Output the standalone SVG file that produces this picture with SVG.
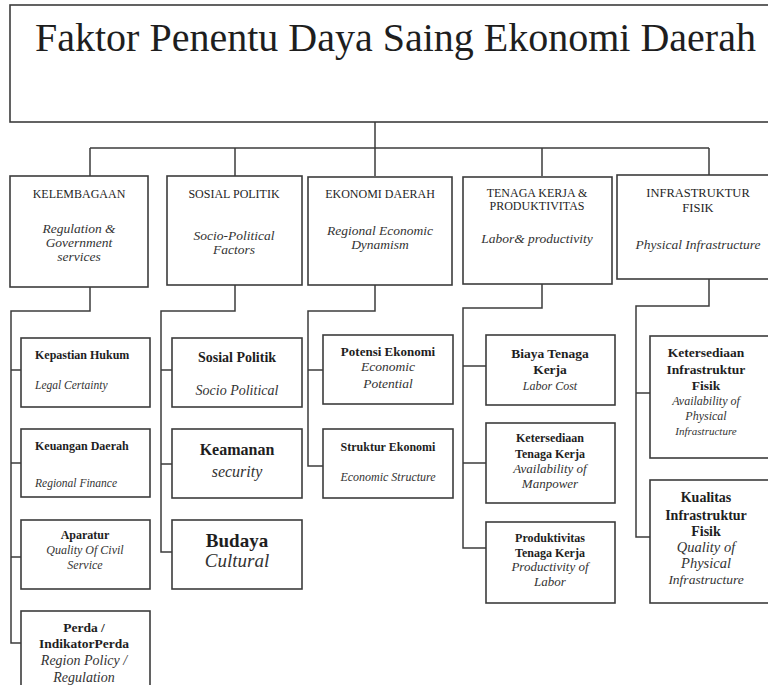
<svg xmlns="http://www.w3.org/2000/svg" width="768" height="685" viewBox="0 0 768 685" font-family="'Liberation Serif', serif">
<style>
.box{fill:#fff;stroke:#3c3c3c;stroke-width:1.6}
.ln{fill:none;stroke:#3c3c3c;stroke-width:1.5}
text{font-family:'Liberation Serif',serif;fill:#1e1e1e;text-anchor:middle}
.h{font-size:12px}
.hi{font-size:13.5px;font-style:italic;fill:#333}
.b{font-weight:bold;font-size:12px}
.i{font-style:italic;font-size:12px;fill:#333}
.l{text-anchor:start}
</style>
<rect width="768" height="685" fill="#fff"/>
<g id="connectors">
<path class="ln" d="M375 122V148M90 148H709M90 148V176M235 148V176M375 148V176M542 148V176M709 148V175"/>
<path class="ln" d="M90 287V311H11V643H21M11 370H21M11 463H21M11 557H21"/>
<path class="ln" d="M235 285V311H161V552H172M161 370H172M161 464H172"/>
<path class="ln" d="M375 285V311H308V466H323M308 370H323"/>
<path class="ln" d="M542 284V308H463V548H486M463 366H486M463 463H486"/>
<path class="ln" d="M709 279V306H636V537H650M636 393H650"/>
</g>
<g id="title">
<rect class="box" x="10" y="5" width="780" height="117"/>
<text class="l" x="35" y="51" style="font-size:40px">Faktor Penentu Daya Saing Ekonomi Daerah</text>
</g>
<g id="kelembagaan">
<rect class="box" x="10" y="176" width="138" height="111"/>
<text class="h" x="79" y="198">KELEMBAGAAN</text>
<text class="hi" x="79" y="233">Regulation &amp;</text>
<text class="hi" x="79" y="247">Government</text>
<text class="hi" x="79" y="261">services</text>
</g>
<g id="sosial-politik">
<rect class="box" x="167" y="176" width="135" height="109"/>
<text class="h" x="234" y="198">SOSIAL POLITIK</text>
<text class="hi" x="234" y="240">Socio-Political</text>
<text class="hi" x="234" y="254">Factors</text>
</g>
<g id="ekonomi-daerah">
<rect class="box" x="308" y="177" width="144" height="108"/>
<text class="h" x="380" y="198">EKONOMI DAERAH</text>
<text class="hi" x="380" y="235">Regional Economic</text>
<text class="hi" x="380" y="249">Dynamism</text>
</g>
<g id="tenaga-kerja">
<rect class="box" x="463" y="177" width="149" height="107"/>
<text class="h" x="537" y="197">TENAGA KERJA &amp;</text>
<text class="h" x="537" y="210">PRODUKTIVITAS</text>
<text class="hi" x="537" y="243">Labor&amp; productivity</text>
</g>
<g id="infrastruktur">
<rect class="box" x="617" y="175" width="170" height="104"/>
<text class="h" x="698" y="197" style="font-size:12.5px">INFRASTRUKTUR</text>
<text class="h" x="698" y="212" style="font-size:12.5px">FISIK</text>
<text class="hi" x="698" y="249">Physical Infrastructure</text>
</g>
<g id="kepastian-hukum">
<rect class="box" x="21" y="338" width="129" height="69"/>
<text class="b l" x="35" y="359">Kepastian Hukum</text>
<text class="i l" x="35" y="389" style="font-size:11.5px">Legal Certainty</text>
</g>
<g id="keuangan-daerah">
<rect class="box" x="21" y="429" width="129" height="68"/>
<text class="b l" x="35" y="450">Keuangan Daerah</text>
<text class="i l" x="35" y="487" style="font-size:11.5px">Regional Finance</text>
</g>
<g id="aparatur">
<rect class="box" x="21" y="520" width="129" height="69"/>
<text class="b" x="85" y="539">Aparatur</text>
<text class="i" x="85" y="554">Quality Of Civil</text>
<text class="i" x="85" y="569">Service</text>
</g>
<g id="perda">
<rect class="box" x="21" y="611" width="129" height="80"/>
<text class="b" x="84" y="632" style="font-size:13.5px">Perda /</text>
<text class="b" x="84" y="648" style="font-size:13.5px">IndikatorPerda</text>
<text class="i" x="84" y="665" style="font-size:14px">Region Policy /</text>
<text class="i" x="84" y="682" style="font-size:14px">Regulation</text>
</g>
<g id="sosial-politik-child">
<rect class="box" x="172" y="338" width="130" height="69"/>
<text class="b" x="237" y="362" style="font-size:14px">Sosial Politik</text>
<text class="i" x="237" y="395" style="font-size:14px">Socio Political</text>
</g>
<g id="keamanan">
<rect class="box" x="172" y="429" width="130" height="69"/>
<text class="b" x="237" y="455" style="font-size:16px">Keamanan</text>
<text class="i" x="237" y="477" style="font-size:16px">security</text>
</g>
<g id="budaya">
<rect class="box" x="172" y="520" width="130" height="69"/>
<text class="b" x="237" y="547" style="font-size:19px">Budaya</text>
<text class="i" x="237" y="567" style="font-size:19px">Cultural</text>
</g>
<g id="potensi-ekonomi">
<rect class="box" x="323" y="335" width="130" height="69"/>
<text class="b" x="388" y="356" style="font-size:13px">Potensi Ekonomi</text>
<text class="i" x="388" y="371" style="font-size:13.5px">Economic</text>
<text class="i" x="388" y="388" style="font-size:13.5px">Potential</text>
</g>
<g id="struktur-ekonomi">
<rect class="box" x="323" y="429" width="130" height="69"/>
<text class="b" x="388" y="451">Struktur Ekonomi</text>
<text class="i" x="388" y="481">Economic Structure</text>
</g>
<g id="biaya-tenaga-kerja">
<rect class="box" x="486" y="335" width="129" height="70"/>
<text class="b" x="550" y="358" style="font-size:13.5px">Biaya Tenaga</text>
<text class="b" x="550" y="374" style="font-size:13.5px">Kerja</text>
<text class="i" x="550" y="390">Labor Cost</text>
</g>
<g id="ketersediaan-tenaga-kerja">
<rect class="box" x="486" y="423" width="129" height="80"/>
<text class="b" x="550" y="442">Ketersediaan</text>
<text class="b" x="550" y="458">Tenaga Kerja</text>
<text class="i" x="550" y="473" style="font-size:13px">Availability of</text>
<text class="i" x="550" y="488" style="font-size:13px">Manpower</text>
</g>
<g id="produktivitas-tenaga-kerja">
<rect class="box" x="486" y="522" width="129" height="81"/>
<text class="b" x="550" y="542">Produktivitas</text>
<text class="b" x="550" y="557">Tenaga Kerja</text>
<text class="i" x="550" y="571" style="font-size:13px">Productivity of</text>
<text class="i" x="550" y="586" style="font-size:13px">Labor</text>
</g>
<g id="ketersediaan-infrastruktur">
<rect class="box" x="650" y="336" width="130" height="122"/>
<text class="b" x="706" y="357" style="font-size:13.5px">Ketersediaan</text>
<text class="b" x="706" y="374" style="font-size:13.5px">Infrastruktur</text>
<text class="b" x="706" y="390" style="font-size:13.5px">Fisik</text>
<text class="i" x="706" y="405">Availability of</text>
<text class="i" x="706" y="420">Physical</text>
<text class="i" x="706" y="435" style="font-size:11px">Infrastructure</text>
</g>
<g id="kualitas-infrastruktur">
<rect class="box" x="650" y="480" width="130" height="123"/>
<text class="b" x="706" y="502" style="font-size:14px">Kualitas</text>
<text class="b" x="706" y="520" style="font-size:14px">Infrastruktur</text>
<text class="b" x="706" y="536" style="font-size:14px">Fisik</text>
<text class="i" x="706" y="552" style="font-size:14.5px">Quality of</text>
<text class="i" x="706" y="568" style="font-size:14.5px">Physical</text>
<text class="i" x="706" y="584" style="font-size:13.5px">Infrastructure</text>
</g>
</svg>
